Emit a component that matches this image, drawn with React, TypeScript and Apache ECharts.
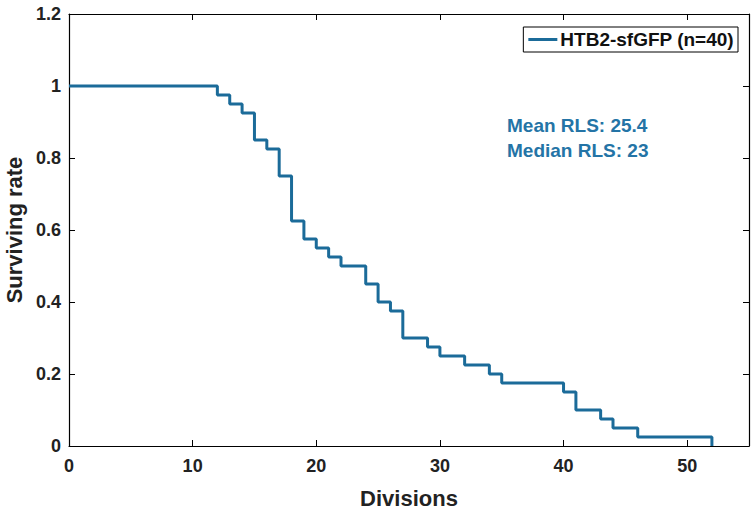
import React, { useEffect, useRef } from "react";
import * as echarts from "echarts";

const divisions = [0, 12, 13, 14, 15, 16, 17, 18, 19, 20, 21, 22, 24, 25, 26, 27, 29, 30, 32, 34, 35, 40, 41, 43, 44, 46, 52];
const surviving = [1, 0.975, 0.95, 0.925, 0.85, 0.825, 0.75, 0.625, 0.575, 0.55, 0.525, 0.5, 0.45, 0.4, 0.375, 0.3, 0.275, 0.25, 0.225, 0.2, 0.175, 0.15, 0.1, 0.075, 0.05, 0.025, 0];
const seriesName = "HTB2-sfGFP (n=40)";
const annotations = ["Mean RLS: 25.4", "Median RLS: 23"];
const xTicks = [0, 10, 20, 30, 40, 50];
const yTicks = [0, 0.2, 0.4, 0.6, 0.8, 1, 1.2];

const FONT = "'Liberation Sans', Arial, sans-serif";
const LINE_COLOR = "#1b6b99";
const TEXT_BLUE = "#2474a6";

export default function App() {
  const ref = useRef<HTMLDivElement>(null);
  useEffect(() => {
    if (!ref.current) return;
    const chart = echarts.init(ref.current, null, { renderer: "svg" });
    const data = divisions.map((d, i) => [d, surviving[i]]);
    const axisLine = { show: true, onZero: false, lineStyle: { color: "#000", width: 1.2 } };
    const tick = { show: true, inside: true, length: 6, lineStyle: { color: "#000" } };
    chart.setOption({
      animation: false,
      backgroundColor: "#fff",
      grid: { left: 69, right: 2, top: 14, bottom: 65, containLabel: false, outerBoundsMode: "none" },
      xAxis: [
        {
          type: "value",
          min: 0,
          max: 55,
          interval: 10,
          name: "Divisions",
          nameLocation: "middle",
          nameGap: 41,
          nameTextStyle: { fontFamily: FONT, fontWeight: "bold", fontSize: 22, color: "#222" },
          axisLine,
          axisTick: tick,
          axisLabel: {
            fontFamily: FONT,
            fontWeight: "bold",
            fontSize: 18,
            color: "#222",
            margin: 11,
            formatter: (v: number) => (xTicks.includes(v) ? String(v) : ""),
          },
          splitLine: { show: false },
        },
        {
          type: "value",
          position: "top",
          min: 0,
          max: 55,
          interval: 10,
          axisLine,
          axisTick: tick,
          axisLabel: { show: false },
          splitLine: { show: false },
        },
      ],
      yAxis: [
        {
          type: "value",
          min: 0,
          max: 1.2,
          interval: 0.2,
          name: "Surviving rate",
          nameLocation: "middle",
          nameGap: 44,
          nameTextStyle: { fontFamily: FONT, fontWeight: "bold", fontSize: 22, color: "#222" },
          axisLine,
          axisTick: tick,
          axisLabel: {
            fontFamily: FONT,
            fontWeight: "bold",
            fontSize: 18,
            color: "#222",
            margin: 8,
            formatter: (v: number) => {
              const t = yTicks.find((y) => Math.abs(y - v) < 1e-6);
              return t === undefined ? "" : String(Math.round(t * 10) / 10);
            },
          },
          splitLine: { show: false },
        },
        {
          type: "value",
          position: "right",
          min: 0,
          max: 1.2,
          interval: 0.2,
          axisLine,
          axisTick: tick,
          axisLabel: { show: false },
          splitLine: { show: false },
        },
      ],
      legend: {
        data: [{ name: seriesName, icon: "rect" }],
        right: 13,
        top: 27,
        orient: "vertical",
        itemWidth: 29,
        itemHeight: 3,
        itemGap: 0,
        padding: [3, 4, 3, 5],
        borderColor: "#000",
        borderWidth: 1,
        backgroundColor: "#fff",
        textStyle: { fontFamily: FONT, fontWeight: "bold", fontSize: 19, color: "#111", padding: [0, 0, 0, -2] },
      },
      series: [
        {
          name: seriesName,
          type: "line",
          step: "end",
          data,
          showSymbol: false,
          symbol: "none",
          itemStyle: { color: LINE_COLOR },
          lineStyle: { color: LINE_COLOR, width: 3 },
        },
      ],
      graphic: annotations.map((t, i) => ({
        type: "text",
        left: 507,
        top: 116 + i * 25,
        style: {
          text: t,
          fontFamily: FONT,
          fontWeight: "bold",
          fontSize: 19,
          fill: TEXT_BLUE,
        },
      })),
    });
    return () => chart.dispose();
  }, []);
  return <div ref={ref} style={{ position: "fixed", left: 0, top: 0, width: 751, height: 511 }} />;
}
